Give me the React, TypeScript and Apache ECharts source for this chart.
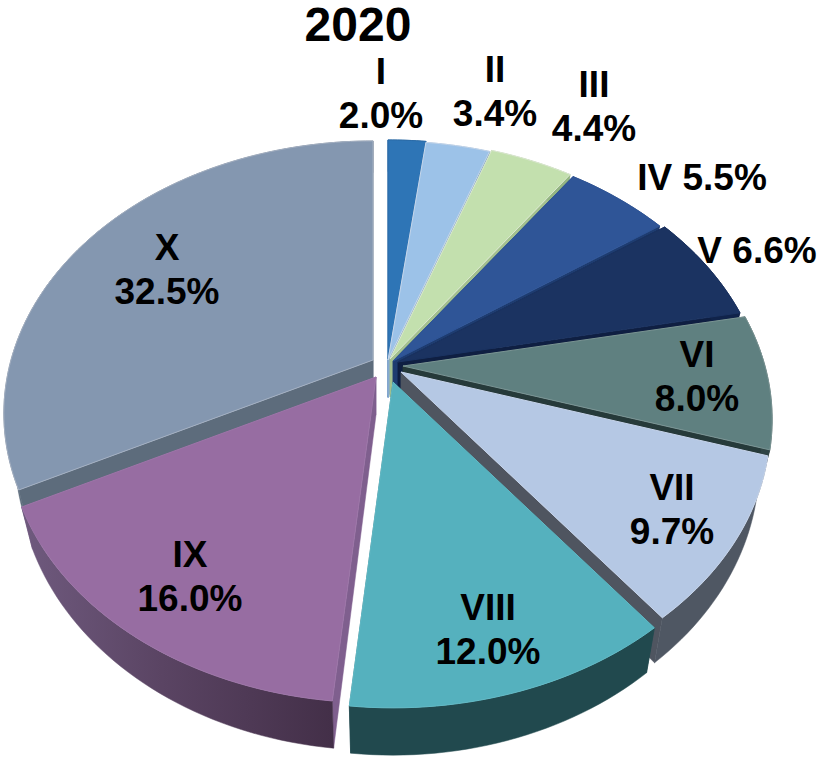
import React, { useEffect, useRef } from "react";
import * as echarts from "echarts";

const titleText = "2020";
const sliceNames = ["I", "II", "III", "IV", "V", "VI", "VII", "VIII", "IX", "X"];
const sliceValues = [2.0, 3.4, 4.4, 5.5, 6.6, 8.0, 9.7, 12.0, 16.0, 32.5];
const faceColors = ["#2e75b6", "#9cc2e8", "#c3e0ae", "#2f5597", "#1b3361", "#5f8080", "#b5c8e4", "#55b1be", "#976da2", "#8497b0"];
const rimColors = ["#1d5a91", "#6f97c4", "#94b583", "#1e3c70", "#10234a", "#2f4444", "#4f5763", "#21494e", "#432f48", "#5d6c7c"];
const cutColors = ["#2467a3", "#87a9d0", "#a3c08f", "#1e3c70", "#0f1f42", "#263a3a", "#4f5560", "#21494e", "#7f5f8e", "#5d6c7c"];
const faceEdges = ["#2a6ba8", "#c5d6ea", "#dbe8d0", "#2f5597", "#1b3361", "#7a9494", "#c6d4ea", "#62bac6", "#9d76a8", "#a4b0c2"];

// Explosion of each slice: where its apex ends up on the page.
const apexX = [388, 388, 390, 393, 398, 403, 401, 393, 376, 373];
const apexY = [359, 360, 359, 361, 362, 366, 372, 382, 377, 360];
const labelX = [381, 495, 594, 702, 757, 697, 672, 488, 190, 167];
const labelY = [93, 91, 106, 177, 250, 376, 509, 629, 576, 269];
const oneLine = [false, false, false, true, true, false, false, false, false, false];
const drawOrder = [9, 0, 1, 2, 3, 4, 5, 6, 8, 7];

const RX = 362;
const RY = 262;
const K = 0.196;
const DEPTH = 38;
const SHRINK = 0.97;

const total = sliceValues.reduce((a, b) => a + b, 0);

function renderSlice(_params: any, api: any) {
  const i = api.value(0) as number;
  const val = api.value(1) as number;
  let before = 0;
  for (let j = 0; j < i; j++) before += sliceValues[j];
  const a0 = (before / total) * Math.PI * 2;
  const a1 = ((before + val) / total) * Math.PI * 2;
  const ax = apexX[i];
  const ay = apexY[i];

  const top = (a: number) => {
    const u = Math.sin(a);
    const v = -Math.cos(a);
    const den = 1 - K * v;
    return [ax + (RX * u) / den, ay + (RY * v) / den];
  };
  const low = (a: number) => {
    const u = Math.sin(a);
    const v = -Math.cos(a);
    const den = 1 - K * v;
    return [ax + ((RX * u) / den) * SHRINK, ay + (RY * v) / den + DEPTH / den];
  };
  const n = Math.max(8, Math.ceil((a1 - a0) * 40));
  const topArc: number[][] = [];
  const lowArc: number[][] = [];
  for (let s = 0; s <= n; s++) {
    const a = a0 + ((a1 - a0) * s) / n;
    topArc.push(top(a));
    lowArc.push(low(a));
  }
  const apexTop = [ax, ay];
  const apexLow = [ax, ay + DEPTH];
  const poly = (points: number[][], fill: any, stroke?: string) => ({
    type: "polygon",
    silent: true,
    shape: { points },
    style: { fill, stroke: stroke || fill, lineWidth: stroke ? 1 : 0.5, lineJoin: "round" },
  });
  const rimGrad = {
    type: "linear",
    x: 0,
    y: 0,
    x2: 1,
    y2: 0,
    colorStops:
      i === 8
        ? [
            { offset: 0, color: "#6f5a7e" },
            { offset: 0.45, color: "#5a4463" },
            { offset: 1, color: rimColors[i] },
          ]
        : [
            { offset: 0, color: rimColors[i] },
            { offset: 1, color: rimColors[i] },
          ],
  };
  const children: any[] = [
    poly([apexTop, topArc[0], lowArc[0], apexLow], cutColors[i]),
    poly([apexTop, topArc[n], lowArc[n], apexLow], cutColors[i]),
    poly([...topArc, ...lowArc.slice().reverse()], rimGrad),
    poly([apexTop, ...topArc], faceColors[i], faceEdges[i]),
    {
      type: "text",
      silent: true,
      style: {
        x: labelX[i],
        y: labelY[i],
        text: oneLine[i] ? `${sliceNames[i]} ${val.toFixed(1)}%` : `${sliceNames[i]}\n${val.toFixed(1)}%`,
        fill: "#000",
        font: 'bold 37px "Liberation Sans", Arial, sans-serif',
        lineHeight: 44,
        align: "center",
        verticalAlign: "middle",
      },
    },
  ];
  return { type: "group", children };
}

export default function App() {
  const ref = useRef<HTMLDivElement>(null);
  useEffect(() => {
    document.body.style.margin = "0";
    document.body.style.background = "#fff";
    const chart = echarts.init(ref.current!, undefined, { renderer: "svg" });
    chart.setOption({
      animation: false,
      backgroundColor: "#ffffff",
      title: {
        text: titleText,
        left: 358,
        top: 0,
        textAlign: "center",
        textVerticalAlign: "top",
        padding: 0,
        textStyle: { fontFamily: '"Liberation Sans", Arial, sans-serif', fontWeight: "bold", fontSize: 48, color: "#000" },
      },
      series: [
        {
          type: "custom",
          coordinateSystem: "none",
          silent: true,
          renderItem: renderSlice,
          data: drawOrder.map((i) => [i, sliceValues[i]]),
        },
      ],
    });
    return () => chart.dispose();
  }, []);
  return <div ref={ref} style={{ width: 820, height: 759 }} />;
}
